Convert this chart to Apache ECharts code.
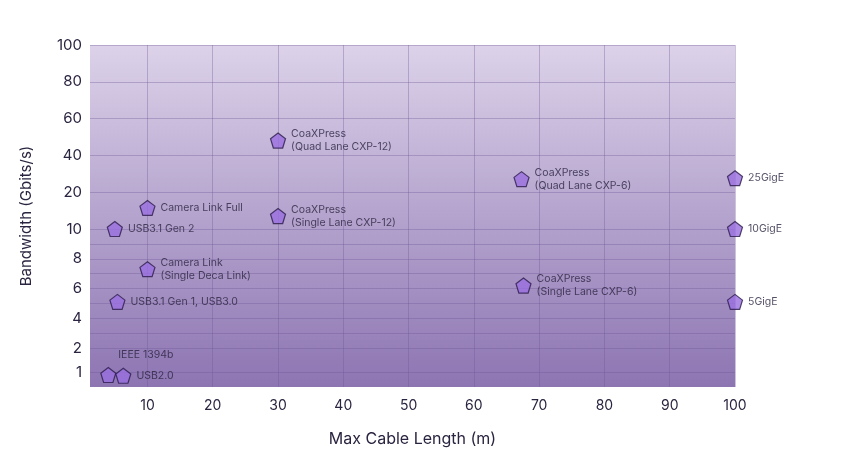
<!DOCTYPE html>
<html><head><meta charset="utf-8">
<script src="https://cdn.jsdelivr.net/npm/echarts@6/dist/echarts.min.js"></script>
<style>html,body{margin:0;padding:0;background:#fff}#c{width:842px;height:476px}</style>
</head><body><div id="c"></div>
<script>
const names = ["IEEE 1394b","USB2.0","USB3.1 Gen 1, USB3.0","USB3.1 Gen 2","Camera Link\n(Single Deca Link)","Camera Link Full","CoaXPress\n(Quad Lane CXP-12)","CoaXPress\n(Single Lane CXP-12)","CoaXPress\n(Quad Lane CXP-6)","CoaXPress\n(Single Lane CXP-6)","25GigE","10GigE","5GigE"];
const cableLength = [4, 6.3, 5.4, 5, 10, 10, 30, 30, 67.3, 67.6, 100, 100, 100];
const bandwidth = [0.8, 0.75, 5.1, 10, 7.3, 15.7, 48, 13.5, 27, 6.2, 27.5, 10, 5.1];
const yTickLabels = [1, 2, 4, 6, 8, 10, 20, 40, 60, 80, 100];
const yMinorTicks = [3, 5, 7, 9];
const xTickLabels = [10, 20, 30, 40, 50, 60, 70, 80, 90, 100];

// axis scale: piecewise break-point mapping of bandwidth to axis position
const scaleVals = [0, 1, 2, 10, 20, 100];
const scalePos  = [0, 15, 39, 158, 195, 342];
function toPos(v){
  for(let i=1;i<scaleVals.length;i++){
    if(v<=scaleVals[i]){
      const t=(v-scaleVals[i-1])/(scaleVals[i]-scaleVals[i-1]);
      return scalePos[i-1]+t*(scalePos[i]-scalePos[i-1]);
    }
  }
  return scalePos[scalePos.length-1];
}
const labelPos = yTickLabels.map(toPos);
const tickPos = yTickLabels.concat(yMinorTicks).map(toPos).sort((a,b)=>a-b);
const labelOf = {}; yTickLabels.forEach(v=>{labelOf[Math.round(toPos(v))]=String(v);});

const pentagon='path://M0,-10 L9.5,-3.1 L5.9,8.1 L-5.9,8.1 L-9.5,-3.1 Z';
const data = names.map((n,i)=>{
  const d={name:n,value:[cableLength[i],toPos(bandwidth[i])]};
  if(i===0) d.label={position:'top',distance:6,offset:[10,0]};
  return d;
});
const chart=echarts.init(document.getElementById('c'));
chart.setOption({
  animation:false,
  grid:{left:90,right:107,top:45,bottom:89,show:true,borderWidth:0,
    backgroundColor:{type:'linear',x:0,y:0,x2:0,y2:1,colorStops:[{offset:0,color:'#dcd2e9'},{offset:1,color:'#8d75b2'}]}},
  xAxis:{type:'value',min:1.2,max:100,
    name:'Max Cable Length (m)',nameLocation:'middle',nameGap:44,
    nameTextStyle:{fontFamily:'Inter',fontSize:16,color:'#2b2440'},
    axisLine:{show:false},
    axisTick:{show:false,customValues:xTickLabels},
    axisLabel:{customValues:xTickLabels,fontFamily:'Inter',fontSize:14,color:'#2b2440',margin:12},
    splitLine:{show:true,lineStyle:{color:'rgba(110,85,150,0.35)',width:1}}},
  yAxis:{type:'value',min:0,max:342,
    name:'Bandwidth (Gbits/s)',nameLocation:'middle',nameGap:56,nameRotate:90,
    nameTextStyle:{fontFamily:'Inter',fontSize:15,color:'#2b2440'},
    axisLine:{show:false},
    axisTick:{show:false,customValues:tickPos},
    axisLabel:{customValues:labelPos,fontFamily:'Inter',fontSize:15,color:'#2b2440',margin:8,
      formatter:v=>labelOf[Math.round(v)]||''},
    splitLine:{show:true,lineStyle:{color:'rgba(110,85,150,0.35)',width:1}}},
  series:[{type:'scatter',symbol:pentagon,symbolSize:15,data:data,clip:false,
    itemStyle:{color:'#9a6fe0',borderColor:'#2a1b4a',borderWidth:1.2},
    label:{show:true,position:'right',distance:5,formatter:'{b}',fontFamily:'Inter',fontSize:10.5,
      color:'#2b2440',lineHeight:13,align:'left'}}]
});
</script></body></html>
